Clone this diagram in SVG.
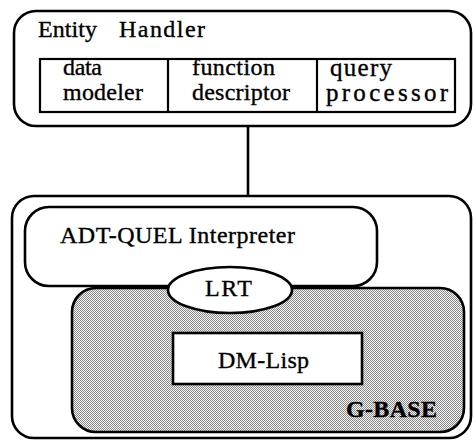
<svg xmlns="http://www.w3.org/2000/svg" width="473" height="440" viewBox="0 0 473 440">
  <style>
    .box { fill: #fff; stroke: #000; stroke-width: 2.6; }
    .cell { fill: none; stroke: #000; stroke-width: 2.2; }
    .wire { fill: none; stroke: #000; stroke-width: 2.6; }
    text { font-family: "Liberation Serif", "DejaVu Serif", serif; font-size: 24px; fill: #000; stroke: #000; stroke-width: 0.35px; }
    .wide { font-size: 25px; }
    .bold { font-weight: bold; }
  </style>
  <defs>
    <!-- fine dither used for the G-BASE area -->
    <pattern id="dither" width="2" height="2" patternUnits="userSpaceOnUse">
      <rect width="2" height="2" fill="#f6f6f6"/>
      <rect width="1" height="1" fill="#8a8a8a"/>
      <rect x="1" y="1" width="1" height="1" fill="#8a8a8a"/>
    </pattern>
  </defs>

  <g id="connectors">
    <line class="wire" x1="248" y1="126" x2="248" y2="197"/>
  </g>

  <g id="entity-handler">
    <rect class="box" x="14" y="11" width="457" height="115" rx="22" ry="22"/>
    <text x="38" y="37" textLength="59">Entity</text>
    <text x="119" y="37" textLength="86">Handler</text>
    <rect class="cell" x="40" y="59" width="415" height="53"/>
    <line class="cell" x1="168" y1="59" x2="168" y2="112"/>
    <line class="cell" x1="317" y1="59" x2="317" y2="112"/>
  </g>

  <g id="data-modeler">
    <text x="63" y="75" textLength="39">data</text>
    <text x="63" y="100" textLength="80">modeler</text>
  </g>

  <g id="function-descriptor">
    <text x="192" y="75" textLength="83">function</text>
    <text x="192" y="100" textLength="98">descriptor</text>
  </g>

  <g id="query-processor">
    <text class="wide" x="330" y="76" textLength="62">query</text>
    <text class="wide" x="326" y="101" textLength="122">processor</text>
  </g>

  <g id="runtime">
    <rect class="box" x="12" y="196" width="459" height="242" rx="22" ry="22"/>
  </g>

  <g id="adt-quel">
    <rect class="box" x="25" y="207" width="352" height="79" rx="24" ry="24"/>
    <text x="60" y="243" textLength="235">ADT-QUEL Interpreter</text>
  </g>

  <g id="g-base">
    <rect x="72" y="288" width="392" height="144" rx="24" ry="24" fill="url(#dither)" stroke="#000" stroke-width="2.6"/>
    <text class="bold" x="346" y="417" textLength="91">G-BASE</text>
  </g>

  <g id="lrt">
    <ellipse class="box" cx="230" cy="290" rx="62" ry="23"/>
    <text x="205" y="296" textLength="47">LRT</text>
  </g>

  <g id="dm-lisp">
    <rect class="box" x="173" y="333" width="189" height="51"/>
    <text x="218" y="368" textLength="91">DM-Lisp</text>
  </g>
</svg>
